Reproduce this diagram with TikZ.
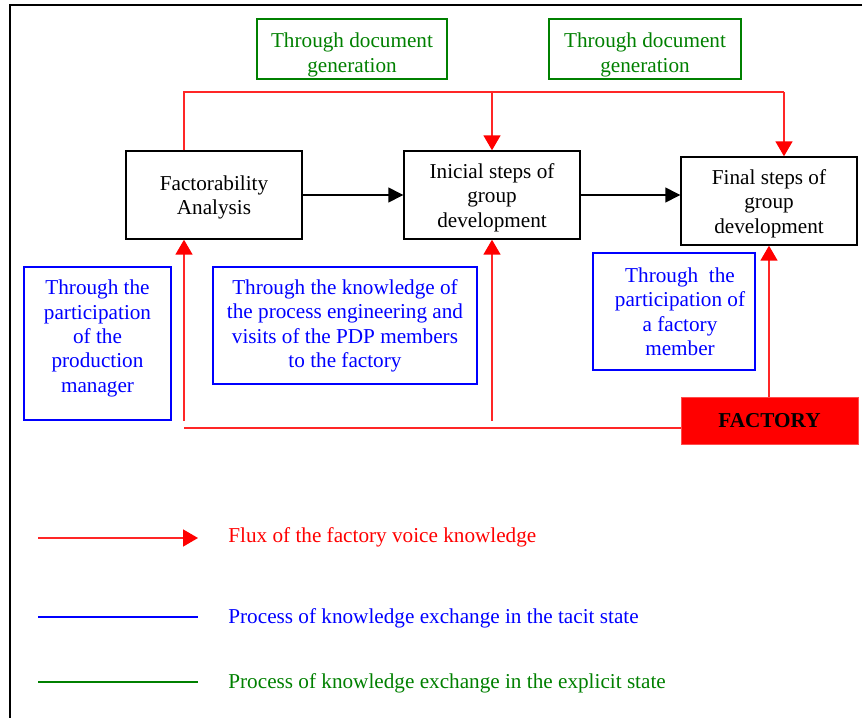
\documentclass[tikz,border=0pt]{standalone}
\usepackage{fontspec}
\setmainfont{Liberation Serif}
\usetikzlibrary{arrows.meta,calc}
\definecolor{dgreen}{RGB}{0,128,0}
\definecolor{lblue}{RGB}{0,0,255}
\begin{document}
\begin{tikzpicture}[x=0.5pt,y=-0.5pt,
  every node/.style={font=\fontsize{10.6}{12.2}\selectfont, align=center, inner sep=0pt},
  blk/.style={draw=black, line width=0.7pt, rectangle, minimum width=88pt, minimum height=44pt},
  gbox/.style={draw=dgreen, line width=0.7pt, rectangle, minimum height=30pt},
  bbox/.style={draw=lblue, line width=0.7pt, rectangle},
  gtxt/.style={text=dgreen},
  btxt/.style={text=lblue},
  ktxt/.style={text=black, yshift=-1.3pt},
  factbox/.style={fill=red, draw=red!70, line width=0.5pt, rectangle, minimum width=88.5pt, minimum height=23.5pt, font=\fontsize{10.6}{12.2}\selectfont\bfseries},
  redflow/.style={draw=red!85, line width=0.8pt},
  redarr/.style={redflow, -{Triangle[length=7.5pt,width=8.5pt,fill=red,color=red]}},
  blkarr/.style={draw=black, line width=0.7pt, -{Triangle[length=7.5pt,width=7.5pt]}},
  legtxt/.style={anchor=west},
]
\useasboundingbox (0,0) rectangle (864,718);

% frame
\draw[line width=0.6pt] (862,5) -- (10,5);
\draw[line width=1.4pt] (10,4.4) -- (10,720);

% green boxes
\node[gbox, minimum width=95pt, label={[gtxt, yshift=-3pt]center:{Through document\\generation}}] (g1) at (352,49) {};
\node[gbox, minimum width=96pt, label={[gtxt, yshift=-3pt]center:{Through document\\generation}}] (g2) at (645,49) {};

% main process boxes
\node[blk, label={[ktxt]center:{Factorability\\Analysis}}] (k1) at (214,195) {};
\node[blk, label={[ktxt]center:{Inicial steps of\\group\\development}}] (k2) at (492,195) {};
\node[blk, label={[ktxt]center:{Final steps of\\group\\development}}] (k3) at (769,201) {};

% blue boxes
\node[bbox, minimum width=73.5pt, minimum height=76.5pt,
  label={[btxt, yshift=2.5pt]center:{Through the\\participation\\of the\\production\\manager}}] (b1) at (97.5,343.5) {};
\node[bbox, minimum width=132pt, minimum height=58.5pt,
  label={[btxt, yshift=-0.2pt]center:{Through the knowledge of\\the process engineering and\\visits of the PDP members\\to the factory}}] (b2) at (345,325.5) {};
\node[bbox, minimum width=81pt, minimum height=58.5pt,
  label={[btxt, xshift=3pt, yshift=-0.2pt]center:{Through\ \ the\\participation of\\a factory\\member}}] (b3) at (674,311.5) {};

% factory
\node[factbox] (fac) at (769.5,420.5) {FACTORY};

% black flow arrows
\draw[blkarr] (k1.east) -- (k2.west);
\draw[blkarr] (k2.east) -- (k2.east -| k3.west);

% red flows from the top
\coordinate (tl) at ($(k1.north)+(-30,0)$);
\coordinate (tr) at ($(k3.north)+(15,0)$);
\draw[redflow] (tl) -- (tl |- 0,92) -- (tr |- 0,92);
\draw[redarr] (tr |- 0,92) -- (tr);
\draw[redarr] (k2.north |- 0,92) -- (k2.north);

% red flows from the factory
\coordinate (bl) at ($(k1.south)+(-30,0)$);
\coordinate (bl0) at (bl |- 0,421);
\coordinate (bm0) at (k2.south |- 0,421);
\draw[redarr] (bl0) -- (bl);
\draw[redarr] (bm0) -- (k2.south);
\draw[redflow] (bl |- 0,428) -- (fac.west |- 0,428);
\draw[redarr] (fac.north -| k3.south) -- (k3.south);

% legend
\coordinate (l1a) at (38,538); \coordinate (l1b) at (198,538);
\coordinate (l2a) at (38,617); \coordinate (l2b) at (198,617);
\coordinate (l3a) at (38,682); \coordinate (l3b) at (198,682);
\draw[redarr] (l1a) -- (l1b);
\draw[draw=lblue, line width=0.7pt] (l2a) -- (l2b);
\draw[draw=dgreen, line width=0.7pt] (l3a) -- (l3b);
\node[legtxt, text=red] (t1) at (228,537.5) {Flux of the factory voice knowledge};
\node[legtxt, text=lblue] (t2) at (228,618.5) {Process of knowledge exchange in the tacit state};
\node[legtxt, text=dgreen] (t3) at (228,683.5) {Process of knowledge exchange in the explicit state};
\end{tikzpicture}
\end{document}
